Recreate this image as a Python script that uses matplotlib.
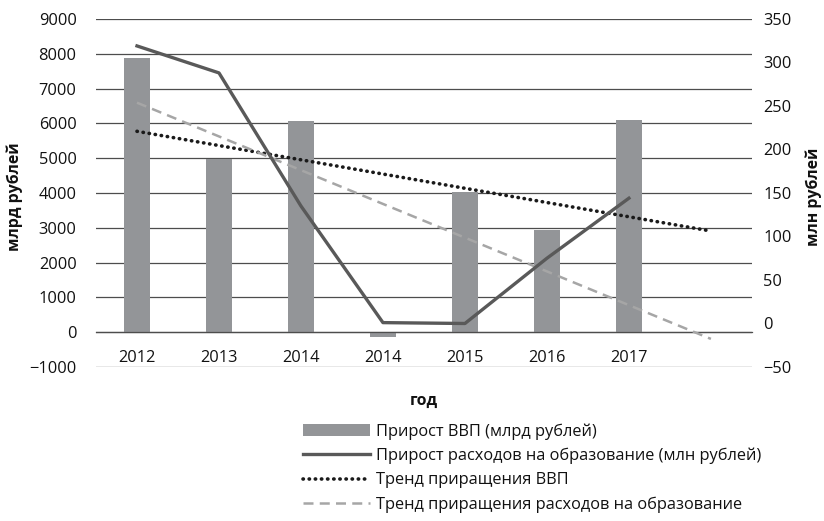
import numpy as np
import matplotlib
matplotlib.use('Agg')
import matplotlib.pyplot as plt

plt.rcParams['font.family'] = ['Open Sans', 'DejaVu Sans']

# data
years = ['2012', '2013', '2014', '2014', '2015', '2016', '2017', '']
gdp_growth = [7870, 4970, 6060, -130, 4020, 2930, 6090]          # млрд рублей
edu_growth = [319, 288, 135, 1, 0, 75, 144]                       # млн рублей

x = np.arange(1, len(gdp_growth) + 1)
x_trend = np.arange(1, len(years) + 1)

# linear trends as Excel draws them (forward one period)
k_gdp, b_gdp = np.polyfit(x, gdp_growth, 1)
k_edu, b_edu = np.polyfit(x, edu_growth, 1)

fig = plt.figure(figsize=(8.24, 5.21), dpi=100)
ax = fig.add_axes([0.1165, 0.2956, 0.796, 0.668])
ax2 = ax.twinx()

grid_col = '#4d4d4d'
txt_col = '#111111'
fs = 11.8
fs_lab = 11.4

bars = ax.bar(x, gdp_growth, width=0.32, color='#939598', zorder=2,
              label='Прирост ВВП (млрд рублей)')
trend1, = ax.plot(x_trend, k_gdp * x_trend + b_gdp, color='#1a1a1a', lw=2.6,
                  linestyle=(0, (0.1, 1.6)), dash_capstyle='round', zorder=3,
                  label='Тренд приращения ВВП')
line1, = ax2.plot(x, edu_growth, color='#595959', lw=2.4, zorder=4,
                  label='Прирост расходов на образование (млн рублей)')
trend2, = ax2.plot(x_trend, k_edu * x_trend + b_edu, color='#a6a6a6', lw=1.8,
                   linestyle=(0, (4, 2.5)), zorder=3,
                   label='Тренд приращения расходов на образование')

ax.set_xlim(0.5, 8.5)
ax.set_ylim(-1000, 9000)
ax.set_yticks(np.arange(-1000, 9001, 1000))
ax.set_yticklabels(['\u22121000'] + [str(v) for v in range(0, 9001, 1000)])
ax2.set_ylim(-50, 350)
ax2.set_yticks(np.arange(-50, 351, 50))
ax2.set_yticklabels(['\u221250'] + [str(v) for v in range(0, 351, 50)])

ax.set_xticks(x_trend)
ax.set_xticklabels(years)
ax.grid(axis='y', color=grid_col, lw=0.9, zorder=0)
ax.set_axisbelow(True)

for a in (ax, ax2):
    for s in ('top', 'left', 'right'):
        a.spines[s].set_visible(False)
ax2.spines['bottom'].set_visible(False)
ax.spines['bottom'].set_position(('data', 0))
ax.spines['bottom'].set_color(grid_col)
ax.spines['bottom'].set_linewidth(0.9)

ax.tick_params(axis='x', length=0, pad=13, labelsize=fs, colors=txt_col)
ax.tick_params(axis='y', length=0, pad=14, labelsize=fs, colors=txt_col)
ax2.tick_params(axis='y', length=0, pad=8, labelsize=fs, colors=txt_col)

fig.text(15 / 824, 1 - 197 / 521, 'млрд рублей', rotation=90, fontsize=fs_lab,
         fontweight='bold', ha='center', va='center', color=txt_col)
fig.text(814 / 824, 1 - 197 / 521, 'млн рублей', rotation=90, fontsize=fs_lab,
         fontweight='bold', ha='center', va='center', color=txt_col)
fig.text(424 / 824, 1 - 401 / 521, 'год', fontsize=fs_lab, fontweight='bold',
         ha='center', va='center', color=txt_col)

fig.legend(handles=[bars, line1, trend1, trend2], loc='upper left',
           bbox_to_anchor=(303 / 824, 1 - 423 / 521), frameon=False,
           fontsize=fs, handlelength=4.1, handletextpad=0.35,
           labelspacing=0.5, borderpad=0, borderaxespad=0,
           labelcolor=txt_col)

fig.savefig('out.png', dpi=100)
